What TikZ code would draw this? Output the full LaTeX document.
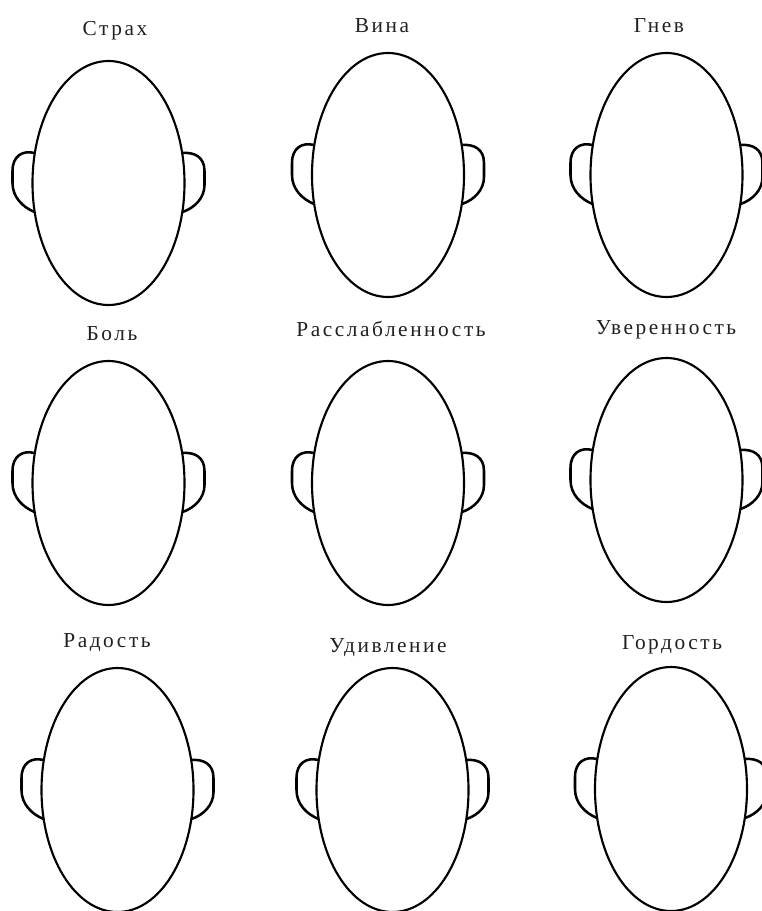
\documentclass[tikz,border=0pt]{standalone}
\usepackage{fontspec}
\setmainfont{Liberation Serif}
\newfontfamily\lblfont[LetterSpace=12]{Liberation Serif}
\usepackage{tikz}
\usetikzlibrary{calc}
\definecolor{inkc}{HTML}{000000}
\definecolor{txtc}{HTML}{202020}
\tikzset{
  hd/.style={draw=inkc,line width=1.6pt},
  er/.style={draw=inkc,line width=1.9pt,line join=round,line cap=round},
  lbl/.style={anchor=base,inner sep=0pt,text=txtc,font=\lblfont\fontsize{16}{19}\selectfont}
}

\begin{document}
\begin{tikzpicture}[x=0.75pt,y=-0.75pt]
\useasboundingbox (0,0) rectangle (761,911);
\foreach \n/\cx/\cy/\lx/\ly/\txt in {
  1/108.5/183/115/35/Страх, 2/388/175/382/32/Вина, 3/666.5/175/659/32/Гнев,
  4/108.5/483/112/340/Боль, 5/388/483/391/336/Расслабленность, 6/666.5/480/666/334/Уверенность,
  7/117.5/790/107/647/Радость, 8/392.5/790/388/652/Удивление, 9/671/789/672/649/Гордость}{
  \coordinate (h\n) at (\cx,\cy);
  \draw[hd] (h\n) ellipse [x radius=76,y radius=122];
  \begin{scope}[shift={(\cx,\cy)}]
    \draw[er] (-74,-30) .. controls (-86,-33) and (-96,-27) .. (-96,-12) -- (-96,0) .. controls (-96,14) and (-86,24) .. (-74,29);
    \draw[er] (74,-30) .. controls (86,-31) and (96,-26) .. (96,-12) -- (96,2) .. controls (96,15) and (86,25) .. (74,29);
  \end{scope}
  \node[lbl] (l\n) at (\lx,\ly) {\txt};
}
\end{tikzpicture}
\end{document}
